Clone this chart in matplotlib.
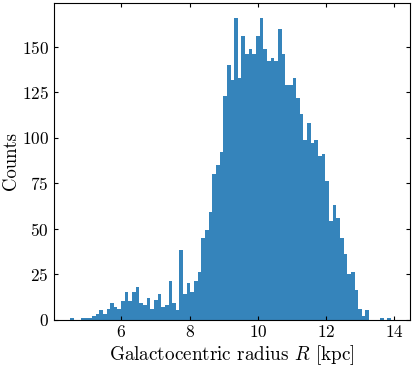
import numpy as np
import matplotlib
matplotlib.use("Agg")
import matplotlib.pyplot as plt

# histogram counts, 88 equal bins between R_min and R_max
r_min = 4.499
r_max = 13.903
counts = [1, 0, 0, 1, 1, 1, 2, 3, 5, 3, 6, 9, 7, 6,
          10, 15, 10, 15, 18, 9, 8, 12, 6, 11, 14, 7, 8, 21, 9, 5, 38, 14, 20,
          15, 21, 26, 45, 49, 59, 80, 85, 92, 123, 140, 132, 166, 133, 156, 146, 149, 146, 156,
          166, 149, 142, 144, 142, 160, 146, 129, 129, 133, 122, 113, 99, 108, 97, 99, 90, 91, 76,
          54, 63, 56, 45, 36, 25, 26, 16, 6, 2, 5, 0, 0, 0, 1, 0, 1]
x_ticks = [6, 8, 10, 12, 14]
y_ticks = [0, 25, 50, 75, 100, 125, 150]

plt.rcParams['font.family'] = 'serif'
plt.rcParams['font.serif'] = ['cmr10', 'DejaVu Serif']
plt.rcParams['mathtext.fontset'] = 'cm'
plt.rcParams['axes.formatter.use_mathtext'] = True

edges = np.linspace(r_min, r_max, len(counts) + 1)
centres = 0.5 * (edges[:-1] + edges[1:])

fig = plt.figure(figsize=(4.15, 3.68), dpi=100)
ax = fig.add_axes([53.7/415, 1 - 319.5/368, (410 - 53.7)/415, (319.5 - 3.3)/368])

ax.hist(centres, bins=edges, weights=counts, color='C0', alpha=0.9)

ax.set_xlim(4.02, 14.46)
ax.set_ylim(0, 174.0)
ax.set_xticks(x_ticks)
ax.set_yticks(y_ticks)
ax.tick_params(direction='in', top=True, right=True, length=3, width=0.8, labelsize=12.5)
for sp in ax.spines.values():
    sp.set_linewidth(0.8)

ax.set_xlabel(r'Galactocentric radius $R$ [kpc]', fontsize=13.8, labelpad=2)
ax.set_ylabel('Counts', fontsize=13.5, labelpad=1)

fig.savefig('out.png', dpi=100)
